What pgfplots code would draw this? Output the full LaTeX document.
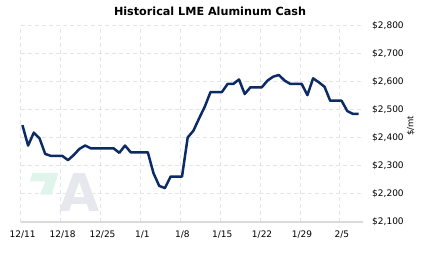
\documentclass[border=0pt]{standalone}
\usepackage{pgfplots}
\pgfplotsset{compat=1.18}
\usepackage{fontspec}
\setmainfont{DejaVu Sans}
\definecolor{navy}{HTML}{0B2A66}
\definecolor{gridc}{HTML}{E4E4E4}
\definecolor{basec}{HTML}{DADADA}
\definecolor{mint}{HTML}{DFF5EC}
\definecolor{logog}{HTML}{E6E8EE}
\begin{document}
\begin{tikzpicture}
\useasboundingbox (0,0) rectangle (423bp,257bp);
\begin{axis}[
  at={(20.7bp,35.3bp)}, anchor=south west,
  scale only axis, width=342bp, height=196bp,
  xmin=0, xmax=60, ymin=2100, ymax=2800,
  xtick={0,7,14,21,28,35,42,49,56},
  xticklabels={12/11,12/18,12/25,1/1,1/8,1/15,1/22,1/29,2/5},
  ytick={2100,2200,2300,2400,2500,2600,2700,2800},
  yticklabels={{\$2,100},{\$2,200},{\$2,300},{\$2,400},{\$2,500},{\$2,600},{\$2,700},{\$2,800}},
  yticklabel pos=right,
  major tick length=0pt,
  axis line style={draw=none},
  grid=major,
  major grid style={gridc, dashed, dash pattern=on 4bp off 3bp, line width=0.8bp},
  tick label style={font=\fontsize{9bp}{10bp}\selectfont},
  xticklabel style={yshift=-6bp, xshift=2bp},
  yticklabel style={xshift=6bp, anchor=west},
  ylabel={\$/mt},
  ylabel style={at={(axis description cs:1,0.5)}, anchor=center, rotate=0, yshift=-48bp, xshift=-2bp, font=\fontsize{8.5bp}{10bp}\selectfont},
  title={Historical LME Aluminum Cash},
  title style={at={(axis description cs:0.5535,1)}, anchor=base, yshift=4.5bp, font=\bfseries\fontsize{11.2bp}{13bp}\selectfont},
  clip=false,
]
% watermark logo
\fill[mint] (rel axis cs:0.0339,0.2485) -- (rel axis cs:0.1099,0.2485) -- (rel axis cs:0.0906,0.1378) -- (rel axis cs:0.0564,0.1378) -- (rel axis cs:0.0725,0.2061) -- (rel axis cs:0.0272,0.2061) -- cycle;
\node[logog, anchor=base, inner sep=0pt, font=\bfseries\fontsize{52bp}{52bp}\selectfont] at (rel axis cs:0.171,0.053) {A};
\draw[basec, line width=2bp] (rel axis cs:0,0) -- (rel axis cs:1,0);
\addplot[navy, line width=2.5bp, line join=round] coordinates {
(0.3,2445) (1.3,2372) (2.3,2418) (3.3,2398) (4.3,2342) (5.3,2335) (7.3,2335)
(8.3,2320) (9.3,2338) (10.3,2360) (11.3,2372) (12.3,2362) (16.3,2362)
(17.3,2346) (18.3,2372) (19.3,2348) (22.3,2348) (23.3,2273) (24.3,2228)
(25.3,2220) (26.3,2261) (28.3,2261) (29.3,2401) (30.3,2425) (31.3,2469)
(32.3,2511) (33.3,2563) (35.3,2563) (36.3,2592) (37.3,2592) (38.3,2608)
(39.3,2556) (40.3,2580) (42.3,2580) (43.3,2604) (44.3,2618) (45.3,2624)
(46.3,2604) (47.3,2592) (49.3,2592) (50.3,2552) (51.3,2612) (52.3,2598)
(53.3,2582) (54.3,2532) (56.3,2532) (57.3,2495) (58.3,2485) (59.3,2485)
};
\end{axis}
\end{tikzpicture}
\end{document}
